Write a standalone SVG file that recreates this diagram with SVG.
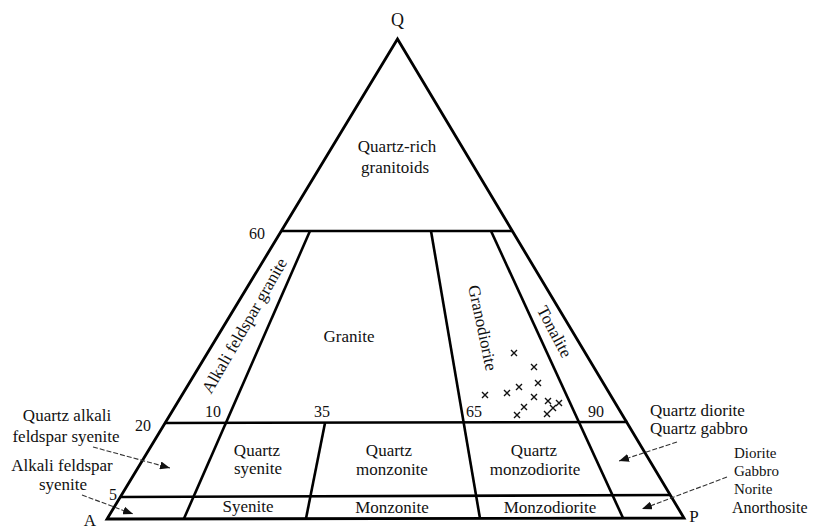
<svg xmlns="http://www.w3.org/2000/svg" width="817" height="529" viewBox="0 0 817 529">
<style>
text{font-family:"Liberation Serif","Times New Roman",serif;fill:#111}
.lbl{font-size:17px;text-anchor:middle}
.num{font-size:16px;text-anchor:middle}
.side{font-size:17px}
.apex{font-size:18px;text-anchor:middle}
.edge{fill:none;stroke:#000;stroke-width:2.8;stroke-linejoin:miter}
.div{fill:none;stroke:#000;stroke-width:2.6}
.arr{fill:none;stroke:#333;stroke-width:1.1;stroke-dasharray:5 2}
.x{stroke:#111;stroke-width:1.4;fill:none}
</style>
<defs>
<marker id="ah" viewBox="0 0 10 8" refX="10" refY="4" markerWidth="10" markerHeight="8" markerUnits="userSpaceOnUse" orient="auto">
<path d="M0,0 L10,4 L0,8 Z" fill="#111"/>
</marker>
</defs>
<rect width="817" height="529" fill="#fff"/>

<g id="triangle">
<path class="edge" d="M397.5,39 L107,519 L684,518 Z"/>
</g>

<g id="dividers">
<line class="div" x1="281" y1="231" x2="512" y2="231"/>
<line class="div" x1="164.5" y1="423" x2="627.5" y2="422"/>
<line class="div" x1="120" y1="497" x2="671" y2="495"/>
<line class="div" x1="310" y1="231" x2="184" y2="518.5"/>
<line class="div" x1="325" y1="423" x2="306" y2="518.5"/>
<line class="div" x1="431" y1="231" x2="480" y2="518.5"/>
<line class="div" x1="491" y1="231" x2="623" y2="518"/>
</g>

<g id="apex-labels">
<text class="apex" x="397.5" y="26">Q</text>
<text class="apex" x="90" y="526" style="font-size:17px">A</text>
<text class="apex" x="694" y="522" style="font-size:17px">P</text>
</g>

<g id="ticks">
<text class="num" x="257" y="239">60</text>
<text class="num" x="143" y="431">20</text>
<text class="num" x="113" y="500">5</text>
<text class="num" x="213" y="417">10</text>
<text class="num" x="322" y="417">35</text>
<text class="num" x="474" y="417">65</text>
<text class="num" x="596" y="417">90</text>
</g>

<g id="node-quartz-rich">
<text class="lbl" x="397" y="152">Quartz-rich</text>
<text class="lbl" x="395" y="173">granitoids</text>
</g>
<g id="node-alkali-feldspar-granite">
<text class="lbl" transform="translate(245,326) rotate(-60)" y="5">Alkali feldspar granite</text>
</g>
<g id="node-granite">
<text class="lbl" x="349" y="342">Granite</text>
</g>
<g id="node-granodiorite">
<text class="lbl" transform="translate(482,328) rotate(78)" y="5">Granodiorite</text>
</g>
<g id="node-tonalite">
<text class="lbl" transform="translate(554,332) rotate(62)" y="5">Tonalite</text>
</g>
<g id="node-quartz-syenite">
<text class="lbl" x="257" y="456">Quartz</text>
<text class="lbl" x="258" y="474">syenite</text>
</g>
<g id="node-quartz-monzonite">
<text class="lbl" x="389" y="456">Quartz</text>
<text class="lbl" x="392" y="475">monzonite</text>
</g>
<g id="node-quartz-monzodiorite">
<text class="lbl" x="534" y="456">Quartz</text>
<text class="lbl" x="535" y="475">monzodiorite</text>
</g>
<g id="node-syenite">
<text class="lbl" x="248" y="512">Syenite</text>
</g>
<g id="node-monzonite">
<text class="lbl" x="392" y="513">Monzonite</text>
</g>
<g id="node-monzodiorite">
<text class="lbl" x="550" y="513">Monzodiorite</text>
</g>

<g id="node-quartz-alkali-feldspar-syenite">
<text class="lbl" x="67" y="421">Quartz alkali</text>
<text class="lbl" x="66" y="442">feldspar syenite</text>
</g>
<g id="node-alkali-feldspar-syenite">
<text class="lbl" x="62" y="471">Alkali feldspar</text>
<text class="lbl" x="63" y="490">syenite</text>
</g>
<g id="node-quartz-diorite">
<text class="side" x="650" y="416">Quartz diorite</text>
<text class="side" x="650" y="434">Quartz gabbro</text>
</g>
<g id="node-diorite">
<text class="side" x="734" y="458" style="font-size:15px">Diorite</text>
<text class="side" x="734" y="476" style="font-size:15px">Gabbro</text>
<text class="side" x="734" y="494" style="font-size:15px">Norite</text>
<text class="side" x="732" y="513" style="font-size:16px">Anorthosite</text>
</g>

<g id="connectors">
<line class="arr" x1="93" y1="447" x2="170" y2="468" marker-end="url(#ah)"/>
<line class="arr" x1="82" y1="495" x2="133" y2="514" marker-end="url(#ah)"/>
<line class="arr" x1="677" y1="442" x2="619" y2="461" marker-end="url(#ah)"/>
<line class="arr" x1="727" y1="477" x2="642" y2="509" marker-end="url(#ah)"/>
</g>

<g id="data-points">
<path class="x" d="M511,350l6,6m0,-6l-6,6 M531,364l6,6m0,-6l-6,6 M535,380l6,6m0,-6l-6,6 M516,384l6,6m0,-6l-6,6 M504,390l6,6m0,-6l-6,6 M482,392l6,6m0,-6l-6,6 M531,394l6,6m0,-6l-6,6 M545,398l6,6m0,-6l-6,6 M556,400l6,6m0,-6l-6,6 M550,405l6,6m0,-6l-6,6 M521,404l6,6m0,-6l-6,6 M514,412l6,6m0,-6l-6,6 M544,411l6,6m0,-6l-6,6"/>
</g>
</svg>
